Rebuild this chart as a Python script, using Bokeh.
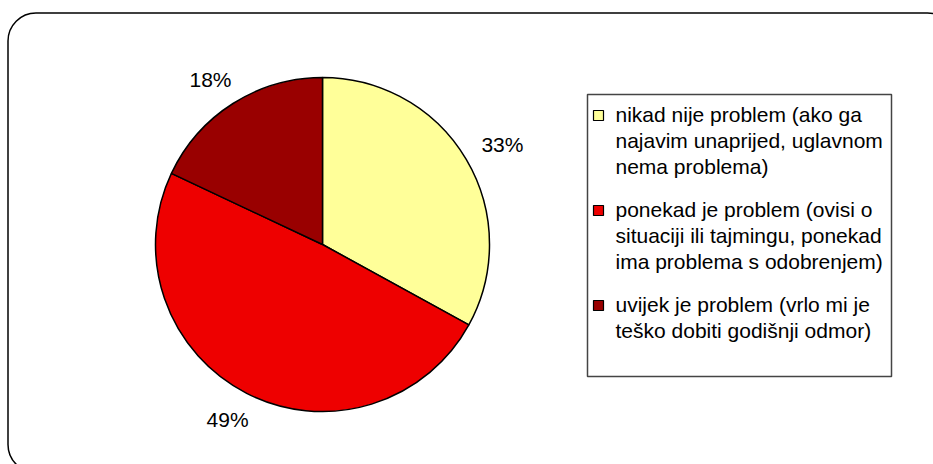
import math
from bokeh.plotting import figure
from bokeh.models import ColumnDataSource, BoxAnnotation, Range1d
from bokeh.core.properties import value
from bokeh.embed import file_html
from bokeh.resources import INLINE

# ---- data ----
categories = [
    "nikad nije problem (ako ga\nnajavim unaprijed, uglavnom\nnema problema)",
    "ponekad je problem (ovisi o\nsituaciji ili tajmingu, ponekad\nima problema s odobrenjem)",
    "uvijek je problem (vrlo mi je\nteško dobiti godišnji odmor)",
]
shares = [33, 49, 18]
pct_labels = ["33%", "49%", "18%"]
colors = ["#FFFF99", "#EE0000", "#990000"]

# ---- layout (pixel units) ----
W, H = 933, 464
CX, CY, R = 322, 220, 167
FONT = value("Liberation Sans")
FS = "21px"

p = figure(width=W, height=H, output_backend="svg", toolbar_location=None,
           x_range=Range1d(0, W), y_range=Range1d(0, H), min_border=0)
p.axis.visible = False
p.grid.visible = False
p.outline_line_color = None
p.background_fill_color = "white"
p.border_fill_color = "white"

# outer rounded frame
p.add_layout(BoxAnnotation(left=7.5, right=955, top=451.5, bottom=-8,
                           fill_alpha=0, line_color="black", line_alpha=1,
                           line_width=1.5, border_radius=28, level="underlay"))

# legend box
p.add_layout(BoxAnnotation(left=587, right=891, top=370, bottom=88,
                           fill_color="white", fill_alpha=1, line_alpha=1,
                           line_color="#444444", line_width=1.5, level="underlay"))

# pie wedges
total = sum(shares)
starts, ends, mids = [], [], []
cum = 0
for s in shares:
    a0 = math.pi / 2 - 2 * math.pi * cum / total
    cum += s
    a1 = math.pi / 2 - 2 * math.pi * cum / total
    starts.append(a0)
    ends.append(a1)
    mids.append((a0 + a1) / 2)

src = ColumnDataSource(dict(x=[CX] * 3, y=[CY] * 3, start=starts, end=ends, color=colors))
p.wedge(x="x", y="y", radius=R, start_angle="start", end_angle="end", direction="clock",
        fill_color="color", line_color="black", line_width=1.5, source=src)

# percent labels: placed just outside the rim, box pushed outward along mid-angle
GAPR = R + 21
HW, HH = 21, 8
lsrc = ColumnDataSource(dict(
    x=[CX + (GAPR + HW) * math.cos(m) for m in mids],
    y=[CY + (GAPR + HH) * math.sin(m) for m in mids],
    t=pct_labels))
p.text(x="x", y="y", text="t", source=lsrc, text_font=FONT, text_font_size=FS,
       text_align="center", text_baseline="middle", text_color="black")

LINE_H = 26
GAP = 17
y0 = 350
sq_x, sq_y, sq_c = [], [], []
tx, ty, tt = [], [], []
y = y0
for cat, col in zip(categories, colors):
    lines = cat.split("\n")
    sq_x.append(598)
    sq_y.append(y - 1)
    sq_c.append(col)
    for ln in lines:
        tx.append(615)
        ty.append(y)
        tt.append(ln)
        y -= LINE_H
    y -= GAP

p.rect(x=sq_x, y=sq_y, width=10, height=10, fill_color=sq_c, line_color="black", line_width=1.2)
p.text(x=tx, y=ty, text=tt, text_font=FONT, text_font_size=FS,
       text_align="left", text_baseline="middle", text_color="black")

open("out.html", "w").write(file_html(p, INLINE))
